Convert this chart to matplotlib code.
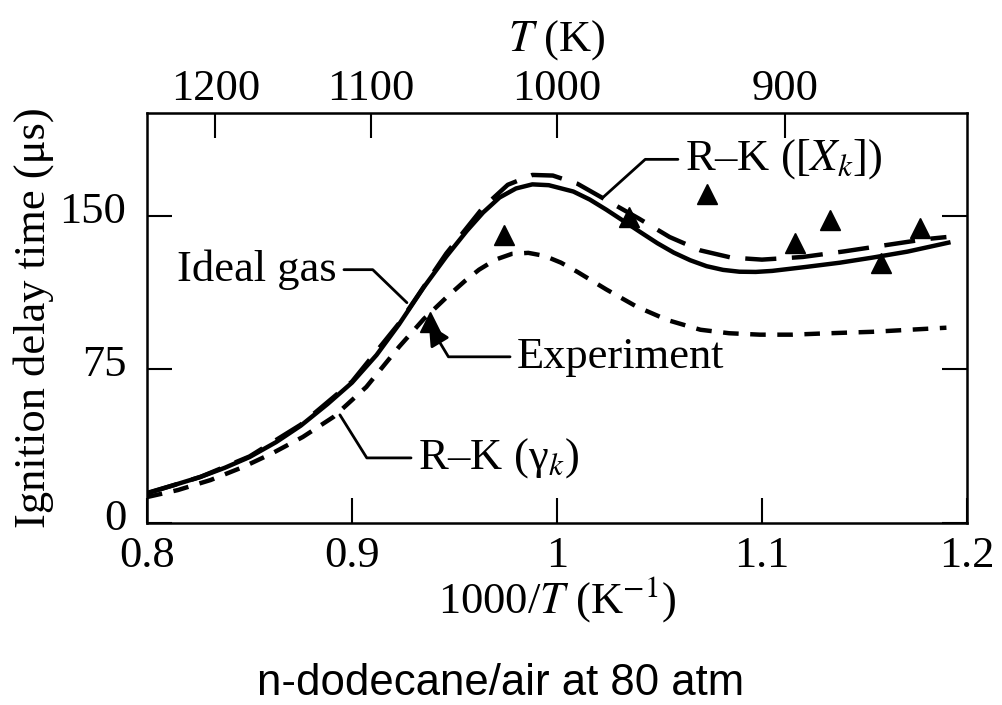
import matplotlib
matplotlib.use("Agg")
import matplotlib.pyplot as plt
from matplotlib.transforms import ScaledTranslation

plt.rcParams['font.family'] = ['Liberation Serif', 'DejaVu Serif']
plt.rcParams['mathtext.fontset'] = 'stix'

# Ideal gas (solid)
ideal_x = [0.800, 0.813, 0.826, 0.838, 0.850, 0.863, 0.875, 0.888, 0.900, 0.912,
           0.923, 0.935, 0.946, 0.956, 0.964, 0.972, 0.980, 0.988, 0.996, 1.008,
           1.016, 1.024, 1.033, 1.041, 1.049, 1.057, 1.065, 1.073, 1.081, 1.089,
           1.097, 1.105, 1.122, 1.138, 1.154, 1.171, 1.192]
ideal_y = [14.7, 18.5, 22.5, 27.0, 32.2, 39.5, 47.5, 58.0, 68.5, 82.0,
           97.0, 115.0, 130.0, 142.5, 151.5, 158.8, 163.2, 165.2, 164.8, 161.7,
           157.8, 152.9, 147.0, 141.7, 136.5, 131.9, 128.2, 125.3, 123.5, 122.6,
           122.5, 123.0, 125.0, 127.0, 129.5, 132.4, 137.0]

# R-K ([X_k]) (long dash)
xk_x = [0.800, 0.826, 0.850, 0.875, 0.900, 0.923, 0.946, 0.964, 0.976, 0.988,
        0.998, 1.010, 1.025, 1.040, 1.055, 1.070, 1.085, 1.100, 1.120, 1.140,
        1.160, 1.180, 1.190]
xk_y = [14.5, 22.5, 32.5, 48.0, 69.0, 97.5, 131.5, 154.0, 165.0, 169.8,
        169.5, 165.5, 157.0, 148.5, 139.5, 133.0, 129.5, 128.5, 129.8, 132.5,
        135.5, 138.5, 139.5]

# R-K (gamma_k) (short dash)
gk_x = [0.800, 0.815, 0.831, 0.847, 0.861, 0.876, 0.891, 0.907, 0.923, 0.935,
        0.946, 0.955, 0.962, 0.970, 0.978, 0.986, 0.994, 1.002, 1.010, 1.024,
        1.039, 1.054, 1.070, 1.084, 1.099, 1.115, 1.130, 1.154, 1.190]
gk_y = [12.7, 16.1, 21.0, 27.4, 34.0, 42.0, 51.8, 66.4, 86.0, 99.5,
        110.0, 118.0, 123.6, 128.5, 131.3, 131.8, 130.3, 127.0, 122.5, 114.0,
        105.5, 99.0, 94.3, 92.6, 91.9, 91.9, 92.5, 93.3, 95.3]

# Experiment
exp_x = [0.938, 0.974, 1.035, 1.073, 1.116, 1.133, 1.158, 1.177]
exp_y = [98.0, 140.7, 149.5, 160.3, 136.8, 148.0, 127.0, 144.1]

x_ticks = [0.8, 0.9, 1.0, 1.1, 1.2]
x_ticklabels = ['0.8', '0.9', '1', '1.1', '1.2']
y_ticks = [0, 75, 150]
top_T = [1200, 1100, 1000, 900]

fs = 32
fig = plt.figure(figsize=(10.02, 7.05), dpi=100)
ax = fig.add_axes([0.1467, 0.258, 0.8183, 0.5817])

ax.plot(ideal_x, ideal_y, color='black', lw=3.2, solid_capstyle='butt')
ax.plot(xk_x, xk_y, color='black', lw=3.2, dashes=(7, 3.5))
ax.plot(gk_x, gk_y, color='black', lw=3.2, dashes=(3.5, 2.6))
ax.plot(exp_x, exp_y, linestyle='none', marker='^', color='black', ms=15)

ax.set_xlim(0.8, 1.2)
ax.set_ylim(0, 200)
ax.set_xticks(x_ticks)
ax.set_xticklabels(x_ticklabels)
ax.set_yticks(y_ticks)
ax.tick_params(direction='in', length=18, width=1.5, labelsize=fs,
               right=True)
ax.tick_params(axis='x', pad=9)
ax.tick_params(axis='y', pad=15)
for s in ax.spines.values():
    s.set_linewidth(1.8)

# y tick labels sit a little above their ticks in the original
shift = ScaledTranslation(0, 6 / 72, fig.dpi_scale_trans)
for lab in ax.get_yticklabels():
    lab.set_transform(lab.get_transform() + shift)

ax.set_xlabel(r'1000/$T$ (K$^{-1}$)', fontsize=fs, labelpad=-1)
ax.set_ylabel('Ignition delay time (μs)', fontsize=fs, labelpad=4)

top = ax.secondary_xaxis('top', functions=(lambda x: 1000 / x, lambda t: 1000 / t))
top.set_xticks(top_T)
top.tick_params(direction='in', length=18, width=1.5, labelsize=fs, pad=3)
top.set_xlabel(r'$T$ (K)', fontsize=fs, labelpad=13)

arrow_kw = dict(arrowstyle='-', color='black', lw=2, shrinkA=3, shrinkB=0)

ax.annotate('Ideal gas', xy=(0.9268, 107.5), xytext=(0.8927, 123.6),
            ha='right', va='center', fontsize=fs,
            arrowprops=dict(connectionstyle='angle,angleA=0,angleB=-44,rad=0',
                            relpos=(1, 0.5), **arrow_kw))
ax.annotate('Experiment', xy=(0.9375, 97.0), xytext=(0.9805, 81.1),
            ha='left', va='center', fontsize=fs,
            arrowprops=dict(arrowstyle='-|>,head_length=0.4,head_width=0.2',
                            color='black', lw=2, shrinkA=3, shrinkB=0,
                            connectionstyle='angle,angleA=0,angleB=121,rad=0',
                            relpos=(0, 0.5)))
ax.annotate('R–K (γ$_k$)', xy=(0.8941, 52.8), xytext=(0.9322, 31.8),
            ha='left', va='center', fontsize=fs,
            arrowprops=dict(connectionstyle='angle,angleA=0,angleB=122,rad=0',
                            relpos=(0, 0.5), **arrow_kw))
ax.annotate('R–K ([$X_k$])', xy=(1.0224, 158.8), xytext=(1.0624, 177.4),
            ha='left', va='center', fontsize=fs,
            arrowprops=dict(connectionstyle='angle,angleA=0,angleB=42,rad=0',
                            relpos=(0, 0.5), **arrow_kw))

fig.text(0.5, 0.031, 'n-dodecane/air at 80 atm', ha='center', va='center',
         fontsize=31.5, family=['Liberation Sans', 'DejaVu Sans'])

fig.savefig('out.png', dpi=100)
